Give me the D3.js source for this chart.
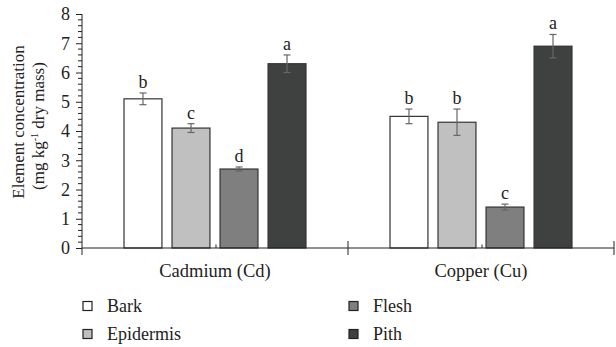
<!DOCTYPE html>
<html>
<head>
<meta charset="utf-8">
<script src="https://cdn.jsdelivr.net/npm/d3@7"></script>
<style>
  html, body { margin: 0; padding: 0; background: #fff; }
  svg text { font-family: "Liberation Serif", "Times New Roman", serif; fill: #222; }
</style>
</head>
<body>
<svg id="chart" width="616" height="347"></svg>
<script>
// Element concentrations per tissue (mg kg-1 dry mass)
const elements = ["Cadmium (Cd)", "Copper (Cu)"];
const tissues = ["Bark", "Epidermis", "Flesh", "Pith"];
const barkValues = [5.1, 4.5];
const epidermisValues = [4.1, 4.3];
const fleshValues = [2.7, 1.4];
const pithValues = [6.3, 6.9];
const barkErrors = [0.2, 0.25];
const epidermisErrors = [0.15, 0.45];
const fleshErrors = [0.07, 0.1];
const pithErrors = [0.3, 0.4];
const barkLetters = ["b", "b"];
const epidermisLetters = ["c", "b"];
const fleshLetters = ["d", "c"];
const pithLetters = ["a", "a"];
const yTicks = [0, 1, 2, 3, 4, 5, 6, 7, 8];

const fills = {Bark: "#ffffff", Epidermis: "#c0c0c0", Flesh: "#7f7f7f", Pith: "#3f4040"};

const seriesValues = {Bark: barkValues, Epidermis: epidermisValues, Flesh: fleshValues, Pith: pithValues};
const seriesErrors = {Bark: barkErrors, Epidermis: epidermisErrors, Flesh: fleshErrors, Pith: pithErrors};
const seriesLetters = {Bark: barkLetters, Epidermis: epidermisLetters, Flesh: fleshLetters, Pith: pithLetters};

const rows = [];
elements.forEach((el, i) => {
  tissues.forEach(t => {
    rows.push({element: el, tissue: t, value: seriesValues[t][i], err: seriesErrors[t][i], letter: seriesLetters[t][i]});
  });
});

const svg = d3.select("#chart");
const plotLeft = 82, plotRight = 614, plotTop = 14, plotBottom = 248;

const x0 = d3.scaleBand().domain(elements).range([plotLeft, plotRight]).padding(0);
const x1 = d3.scaleBand().domain(tissues).range([0, x0.bandwidth()])
  .paddingInner(0.21).paddingOuter(0.875).align(0.5);
const y = d3.scaleLinear().domain([0, 8]).range([plotBottom, plotTop]);

// minor y ticks every 0.2
const minor = d3.range(0, 8.001, 0.2).filter(v => Math.abs(v - Math.round(v)) > 1e-6);
svg.append("g").selectAll("line").data(minor).join("line")
  .attr("x1", plotLeft - 4).attr("x2", plotLeft)
  .attr("y1", d => y(d)).attr("y2", d => y(d))
  .attr("stroke", "#222").attr("stroke-width", 1);

// y axis
const yAxis = svg.append("g").attr("transform", `translate(${plotLeft},0)`)
  .call(d3.axisLeft(y).tickValues(yTicks).tickFormat(d3.format("d")).tickSize(6).tickPadding(6));
yAxis.select(".domain").attr("stroke", "#222").attr("d", `M0,${plotTop}V${plotBottom + 7}`);
yAxis.selectAll(".tick line").attr("stroke", "#222");
yAxis.selectAll(".tick text").style("font-size", "18px").attr("fill", "#222");

// bars
const groups = svg.append("g").selectAll("g").data(elements).join("g")
  .attr("transform", d => `translate(${x0(d)},0)`);

groups.selectAll("rect").data(el => rows.filter(r => r.element === el)).join("rect")
  .attr("x", d => x1(d.tissue))
  .attr("y", d => y(d.value))
  .attr("width", x1.bandwidth())
  .attr("height", d => y(0) - y(d.value))
  .attr("fill", d => fills[d.tissue])
  .attr("stroke", "#333").attr("stroke-width", 1.2);

// error bars with significance letters
const eb = groups.selectAll("g.err").data(el => rows.filter(r => r.element === el)).join("g").attr("class", "err");
eb.append("line")
  .attr("x1", d => x1(d.tissue) + x1.bandwidth() / 2).attr("x2", d => x1(d.tissue) + x1.bandwidth() / 2)
  .attr("y1", d => y(d.value + d.err)).attr("y2", d => y(d.value - d.err))
  .attr("stroke", "#666").attr("stroke-width", 1.2);
[1, -1].forEach(s => {
  eb.append("line")
    .attr("x1", d => x1(d.tissue) + x1.bandwidth() / 2 - 3.5).attr("x2", d => x1(d.tissue) + x1.bandwidth() / 2 + 3.5)
    .attr("y1", d => y(d.value + s * d.err)).attr("y2", d => y(d.value + s * d.err))
    .attr("stroke", "#666").attr("stroke-width", 1.2);
});
eb.append("text")
  .attr("x", d => x1(d.tissue) + x1.bandwidth() / 2)
  .attr("y", d => y(d.value + d.err) - 5)
  .attr("text-anchor", "middle")
  .style("font-size", "18px")
  .text(d => d.letter);

// x axis
const xAxis = svg.append("g");
xAxis.append("line").attr("x1", plotLeft).attr("x2", plotRight).attr("y1", plotBottom).attr("y2", plotBottom)
  .attr("stroke", "#222").attr("stroke-width", 1);
xAxis.selectAll("line.sep").data(elements).join("line").attr("class", "sep")
  .attr("x1", d => x0(d) + x0.bandwidth()).attr("x2", d => x0(d) + x0.bandwidth())
  .attr("y1", plotBottom - 7).attr("y2", plotBottom + 7)
  .attr("stroke", "#222").attr("stroke-width", 1);
xAxis.selectAll("line.mid").data(elements).join("line").attr("class", "mid")
  .attr("x1", d => x0(d) + x0.bandwidth() / 2 + 1).attr("x2", d => x0(d) + x0.bandwidth() / 2 + 1)
  .attr("y1", plotBottom - 3.5).attr("y2", plotBottom)
  .attr("stroke", "#222").attr("stroke-width", 1);
xAxis.selectAll("text").data(elements).join("text")
  .attr("x", d => x0(d) + x0.bandwidth() / 2)
  .attr("y", 277)
  .attr("text-anchor", "middle")
  .style("font-size", "18.5px")
  .text(d => d);

// y axis title
svg.append("text").attr("transform", "translate(24,122) rotate(-90)")
  .attr("text-anchor", "middle").style("font-size", "17px").text("Element concentration");
const yt2 = svg.append("text").attr("transform", "translate(44,126) rotate(-90)")
  .attr("text-anchor", "middle").style("font-size", "17px");
yt2.append("tspan").text("(mg kg");
yt2.append("tspan").attr("dy", -6).style("font-size", "10px").text("-1");
yt2.append("tspan").attr("dy", 6).text(" dry mass)");

// legend
const legendPos = [
  {t: "Bark", sx: 83, tx: 107, cy: 306},
  {t: "Epidermis", sx: 83, tx: 107, cy: 334},
  {t: "Flesh", sx: 349, tx: 373, cy: 306},
  {t: "Pith", sx: 349, tx: 373, cy: 334}
];
const lg = svg.append("g").selectAll("g").data(legendPos).join("g");
lg.append("rect").attr("x", d => d.sx).attr("y", d => d.cy - 4.5).attr("width", 9).attr("height", 9)
  .attr("fill", d => fills[d.t]).attr("stroke", "#222").attr("stroke-width", 1.2);
lg.append("text").attr("x", d => d.tx).attr("y", d => d.cy + 6).style("font-size", "18px").text(d => d.t);
</script>
</body>
</html>
